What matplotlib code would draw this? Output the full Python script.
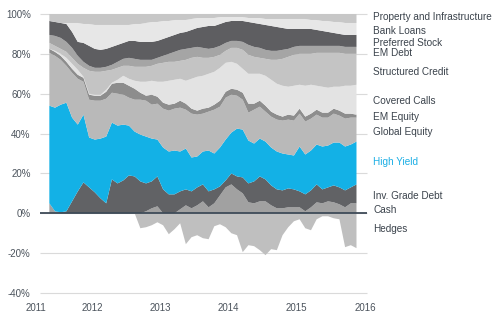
import numpy as np
import pandas as pd
import matplotlib
matplotlib.use("Agg")
import matplotlib.pyplot as plt
from matplotlib.transforms import blended_transform_factory

plt.rcParams['font.family'] = ['Liberation Sans', 'DejaVu Sans']

# monthly observations, May 2011 - Nov 2015 (plotted mid-month)
months = pd.date_range("2011-05-01", "2015-11-01", freq="MS")
x = months.year + (months.month - 0.5) / 12

cash = [5, 1, 0, 0, 0, 0, 0, 0, 0, 0, 0,
        0, 0, 0, 0, 0, 0, 1, 2.5, 3.5, 0, 0,
        0, 2, 4, 2.5, 4, 6, 3, 5, 9, 13, 14.5,
        12, 10, 5.5, 5, 6, 6, 4, 2.5, 2.5, 3, 3,
        3, 1, 3, 5.5, 5, 6, 5.5, 4.5, 3, 5, 5]
inv_grade = [0, 0, 0.5, 1, 6, 11, 15.5, 13, 10.5, 7.5, 5,
             17, 15, 16.5, 19, 18.5, 16, 14, 13.5, 15, 12, 9.5,
             9.5, 9, 8, 8.5, 9, 8.5, 8, 7, 4.5, 3.5, 5.5,
             6.5, 8, 9.5, 11, 12.5, 11, 10, 9.5, 9, 9.5, 9,
             8, 8.5, 8.5, 9, 7, 7, 8.5, 8.5, 8.5, 8, 9.5]
high_yield = [49, 52, 54, 54.5, 42, 33.5, 34, 25, 26.5, 30, 33.5,
              28.5, 29, 28, 25, 22.5, 23.5, 23.5, 21.5, 18.5, 21, 21.5,
              22, 20, 20.5, 17, 15.5, 16.5, 20.5, 18, 19.5, 20.5, 20.5,
              24, 24, 21.5, 19, 19, 19, 19, 19, 18.5, 17, 17,
              22.5, 20, 20, 20, 21.5, 21, 21.5, 22.5, 22, 21.5, 21.5]
global_equity = [26.5, 26, 22.5, 18.5, 22.5, 23, 16.5, 19, 19.5, 19, 19,
                 15, 16, 15, 14, 16, 17.5, 18, 17, 18, 19.5, 20.5,
                 21, 22, 19.5, 22, 21, 19, 19.5, 22, 20.5, 21, 19,
                 16.5, 15, 14, 17, 16, 15, 15.5, 16, 16.5, 17.5, 17.5,
                 16.5, 16.5, 16, 15, 14.5, 14, 14.5, 13.5, 14, 13.5, 12]
em_equity = [2, 2, 2, 2, 2, 2, 2, 2.5, 2.5, 2.5, 3.5,
             4.5, 5.5, 6, 6, 5.5, 3.5, 2.5, 5, 3.5, 3, 3,
             2.5, 3.5, 3, 2.5, 2, 2.5, 2, 2.5, 3, 3, 3,
             3, 3.5, 4.5, 3, 3, 3, 2.5, 2.5, 2, 2.5, 2.5,
             2.5, 2.5, 2.5, 2.5, 2.5, 2.5, 2.5, 2.5, 2.5, 2, 1.5]
covered_calls = [0, 0.5, 1, 2, 2.5, 2.5, 0.5, 0.5, 0.5, 0.5, 1,
                 0.5, 1.5, 3.5, 3.5, 4, 5.5, 7, 7, 7.5, 10.5, 12,
                 12, 11, 11.5, 15, 17, 16.5, 17, 16.5, 16.5, 14.5, 13.5,
                 13, 12, 15, 15, 13.5, 15, 16, 15.5, 15.5, 14, 15,
                 12, 15.5, 14.5, 12, 13, 12.5, 11, 12, 14, 14, 15]
structured_credit = [3, 2.5, 2.5, 3, 3, 3, 4.5, 11.5, 11.5, 11.5, 9.5,
                     6.5, 6, 5, 6.5, 7, 7.5, 7.5, 7.5, 9, 9.5, 9.5,
                     9, 9, 10.5, 10.5, 10, 9, 8, 7.5, 6.5, 6, 7,
                     8, 9.5, 9.5, 8.5, 8, 8.5, 10, 12, 13.5, 15, 15.5,
                     15.5, 16, 15.5, 16.5, 17, 17.5, 17, 17, 16, 16, 15.5]
em_debt = [4, 5, 5.5, 5, 5, 4, 3, 2.5, 2, 2, 2,
           2.5, 3, 3.5, 4, 4, 3.5, 3.5, 3, 3, 3.5, 4,
           5, 5.5, 5.5, 5, 5, 5, 4.5, 4.5, 4.5, 4, 3.5,
           3.5, 4, 5, 5, 5, 4.5, 4.5, 4.5, 4.5, 4, 4,
           4, 4, 4, 3.5, 3.5, 3.5, 3.5, 3.5, 3.5, 3.5, 3.5]
preferred_stock = [7, 7, 7.5, 9, 8, 7, 9.5, 10, 9.5, 9, 9,
                   9, 8.5, 8, 8.5, 9, 9, 9, 9, 8.5, 8.5, 8.5,
                   8.5, 8.5, 8.5, 9, 9.5, 10.5, 11.5, 11, 11, 10.5, 10,
                   10, 10.5, 11.5, 12, 12, 12.5, 12.5, 12, 11, 10, 9,
                   8.5, 8.5, 8.5, 8, 7.5, 7, 6.5, 6, 6, 6, 6]
bank_loans = [0, 0, 0, 0.5, 4.5, 9.5, 9.5, 11, 12, 12.5, 12,
              11, 10, 9, 8, 8.5, 9, 9.5, 10, 9.5, 9, 8,
              7.5, 6.5, 6, 5.5, 5, 4.5, 4, 4, 3.5, 2.5, 2,
              2, 2, 2, 2.5, 3, 3, 3.5, 4, 4.5, 5, 5,
              5, 5, 4.5, 5, 5, 5.5, 5.5, 6, 6, 6, 6]
property_infra = [3.5, 4, 4.5, 4.5, 4.5, 4.5, 5, 5, 5.5, 5.5, 5.5,
                  5.5, 5.5, 5.5, 5.5, 5, 5, 4.5, 4, 4, 3.5, 3.5,
                  3, 3, 3, 2.5, 2, 2, 2, 2, 1.5, 1.5, 1.5,
                  1.5, 1.5, 2, 2, 2, 2.5, 2.5, 2.5, 2.5, 2.5, 2.5,
                  2.5, 2.5, 3, 3, 3.5, 3.5, 4, 4, 4.5, 4.5, 4.5]
hedges = [0, 0, 0, 0, 0, 0, 0, 0, 0, 0, 0,
          0, 0, 0, 0, 0, -7.5, -7, -6, -4.5, -6, -10.5,
          -8, -5, -15.5, -12, -11, -12.5, -13, -6.5, -5.5, -7, -10,
          -11, -19.5, -16, -16.5, -18.5, -21, -18, -18.5, -11, -7, -4,
          -3, -7.5, -8.5, -3, -1.5, -1.5, -2.5, -3, -17, -16, -17.5]

series = [cash, inv_grade, high_yield, global_equity, em_equity, covered_calls,
          structured_credit, em_debt, preferred_stock, bank_loans, property_infra]
colors = ['#a1a1a1', '#616265', '#13b1e6', '#b9b9b9', '#8d8d8d', '#e3e3e3',
          '#c4c4c4', '#a5a5a5', '#5e5e61', '#e7e7e7', '#c7c7c7']

year_ticks = [2011, 2012, 2013, 2014, 2015, 2016]
y_ticks = [-40, -20, 0, 20, 40, 60, 80, 100]

fig = plt.figure(figsize=(5, 3.25), dpi=100)
ax = fig.add_axes([36 / 500, 32 / 325, 331 / 500, 279 / 325])
x_left, x_right = 2011.1795, 2016.029
grid_left = 2011.238
ax.set_xlim(x_left, x_right)
ax.set_ylim(-40, 100)

for v in y_ticks:
    ax.hlines(v, grid_left, x_right, color='#dadada', lw=0.8, zorder=0, clip_on=False)

ax.stackplot(x, series, colors=colors, lw=0, zorder=1)
ax.stackplot(x, hedges, colors=['#bfbfbf'], lw=0, zorder=1)
ax.hlines(0, grid_left, x_right, color='#3e4b58', lw=1.3, zorder=3, clip_on=False)

for s in ax.spines.values():
    s.set_visible(False)

ax.set_yticks(y_ticks)
ax.set_yticklabels([f"{v}%" for v in y_ticks])
ax.set_xticks([x_left] + year_ticks[1:])
ax.set_xticklabels([str(y) for y in year_ticks])
ax.tick_params(axis='both', length=0, labelsize=7, colors='#4b535c')
ax.tick_params(axis='x', pad=7.5)
ax.tick_params(axis='y', pad=3.8)

labels = ["Property and Infrastructure", "Bank Loans", "Preferred Stock", "EM Debt",
          "Structured Credit", "Covered Calls", "EM Equity", "Global Equity",
          "High Yield", "Inv. Grade Debt", "Cash", "Hedges"]
label_y = [98.4, 91.6, 85.6, 80.3, 71.1, 56.3, 48.3, 40.6, 25.6, 8.8, 1.6, -8]
tr = blended_transform_factory(fig.transFigure, ax.transData)
for lab, yy in zip(labels, label_y):
    c = '#1aaee5' if lab == "High Yield" else '#3b434c'
    ax.text(373 / 500, yy, lab, transform=tr, fontsize=7.2, color=c,
            ha='left', va='center', clip_on=False)

fig.savefig("out.png", dpi=100)
